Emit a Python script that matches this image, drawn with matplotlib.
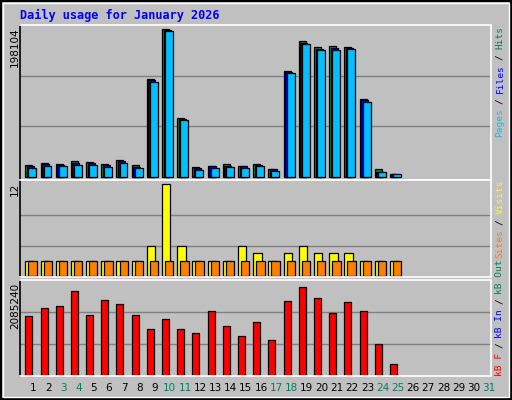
import matplotlib
matplotlib.use('Agg')
import matplotlib.pyplot as plt
import numpy as np

# 일별 데이터
days = list(range(1, 32))
weekend_days = [3, 4, 10, 11, 17, 18, 24, 25, 31]
hits = [15239, 18722, 17416, 20464, 20028, 17416, 22641, 15239, 127572, 192447, 76630, 12627, 13933,
        17416, 13933, 16545, 10885, 138022, 176772, 168935, 170241, 168935, 101448, 10014, 3919]
files = [13933, 16545, 15674, 17851, 18287, 16110, 20899, 13497, 125830, 191141, 75759, 11320, 13933,
         14804, 13933, 15239, 10014, 136716, 175030, 167193, 168064, 168064, 100142, 6966, 3483]
pages = [12191, 13933, 13933, 15239, 16110, 12627, 18722, 11320, 123218, 189834, 74889, 8708, 11320,
         12627, 11320, 13933, 8273, 134975, 173289, 165018, 165453, 166322, 98400, 6966, 3483]
visits = [2, 2, 2, 2, 2, 2, 2, 2, 4, 12, 4, 2, 2, 2, 4, 3, 2, 3, 4, 3, 3, 3, 2, 2, 2]
sites = [2] * 25
kbytes = [1341500, 1516500, 1560000, 1910000, 1363000, 1691000, 1604000, 1363000, 1057000, 1276000,
          1057000, 970000, 1451000, 1123000, 904000, 1210000, 795000, 1670000, 1998000, 1735000,
          1407000, 1648000, 1451000, 707000, 270000]
max_hits = 198104
max_visits = 12
max_kb = 2085240

BG = '#C0C0C0'
W, H = 512, 400
fig = plt.figure(figsize=(5.12, 4.0), dpi=100, facecolor=BG)
mono = 'DejaVu Sans Mono'

def px_axes(x0, y0, x1, y1):
    ax = fig.add_axes([x0 / W, 1 - y1 / H, (x1 - x0) / W, (y1 - y0) / H])
    ax.set_facecolor(BG)
    ax.set_xlim(0, 31)
    ax.set_xticks([])
    ax.set_yticks([])
    ax.spines['left'].set_color('black')
    ax.spines['top'].set_color('white')
    ax.spines['right'].set_color('white')
    ax.spines['bottom'].set_color('white')
    for s in ax.spines.values():
        s.set_linewidth(1.2)
    return ax

def grid3(ax, top, bottom=0):
    for f in (1 / 3, 2 / 3):
        ax.axhline(bottom + (top - bottom) * f, color='#808080', lw=1, zorder=0)

n = len(hits)
x = np.arange(n)
kw = dict(align='edge', edgecolor='black', linewidth=0.9)

# 상단: Hits / Files / Pages
ax1 = px_axes(20, 25, 491, 180)
ax1.set_ylim(-3900, max_hits)
grid3(ax1, max_hits)
ax1.bar(x + 0.35, hits, 0.46, color='#00805C', **kw)
ax1.bar(x + 0.45, files, 0.46, color='#0000FF', **kw)
ax1.bar(x + 0.55, pages, 0.52, color='#00C0FF', **kw)

# 중간: Visits / Sites
ax2 = px_axes(20, 180, 491, 277)
ax2.set_ylim(-0.09, 12.55)
grid3(ax2, 12)
ax2.bar(x + 0.35, visits, 0.55, color='#FFFF00', **kw)
ax2.bar(x + 0.55, sites, 0.55, color='#FF8000', **kw)

# 하단: kB
ax3 = px_axes(20, 280, 491, 376)
ax3.set_ylim(0, max_kb * 1.03)
grid3(ax3, max_kb * 1.03)
ax3.bar(x + 0.35, kbytes, 0.46, color='#FF0000', **kw)

# 날짜 라벨
for d in days:
    c = '#00805C' if d in weekend_days else 'black'
    fig.text((20 + 15.2 * (d - 1) + 13) / W, 1 - 388 / H, str(d), color=c,
             ha='center', va='center', fontsize=7.5)

# 제목
fig.text(20 / W, 1 - 15 / H, 'Daily usage for January 2026', color='#0000FF',
         fontsize=8.6, fontweight='bold', family=mono, va='center')

# 왼쪽 최대값 라벨
for label, ytop in [(str(max_hits), 27), (str(max_visits), 183), (str(max_kb), 283)]:
    fig.text(15 / W, 1 - ytop / H, label, rotation=90, ha='center', va='top', fontsize=7.5)

# 오른쪽 범례 (아래에서 위로)
def right_legend(parts, ybottom):
    y = ybottom
    for txt, col in parts:
        fig.text(500 / W, 1 - y / H, txt, rotation=90, color=col, family=mono,
                 fontsize=6.8, ha='center', va='bottom')
        y -= 5.5 * (len(txt) + 1)

right_legend([('Pages', '#00C0FF'), ('/', '#000000'), ('Files', '#0000FF'),
              ('/', '#000000'), ('Hits', '#00805C')], 137)
right_legend([('Sites', '#FF8000'), ('/', '#000000'), ('Visits', '#FFFF00')], 258)
right_legend([('kB F', '#FF0000'), ('/', '#000000'), ('kB In', '#0000FF'),
              ('/', '#000000'), ('kB Out', '#00805C')], 376)

# 바깥 테두리
fig.patches.append(plt.Rectangle((0.002, 0.002), 0.996, 0.996, transform=fig.transFigure,
                                 fill=False, edgecolor='black', lw=1.5))
fig.patches.append(plt.Rectangle((3 / W, 3 / H), 1 - 6 / W, 1 - 6 / H, transform=fig.transFigure,
                                 fill=False, edgecolor='white', lw=1))

fig.savefig('out.png', dpi=100, facecolor=BG)
